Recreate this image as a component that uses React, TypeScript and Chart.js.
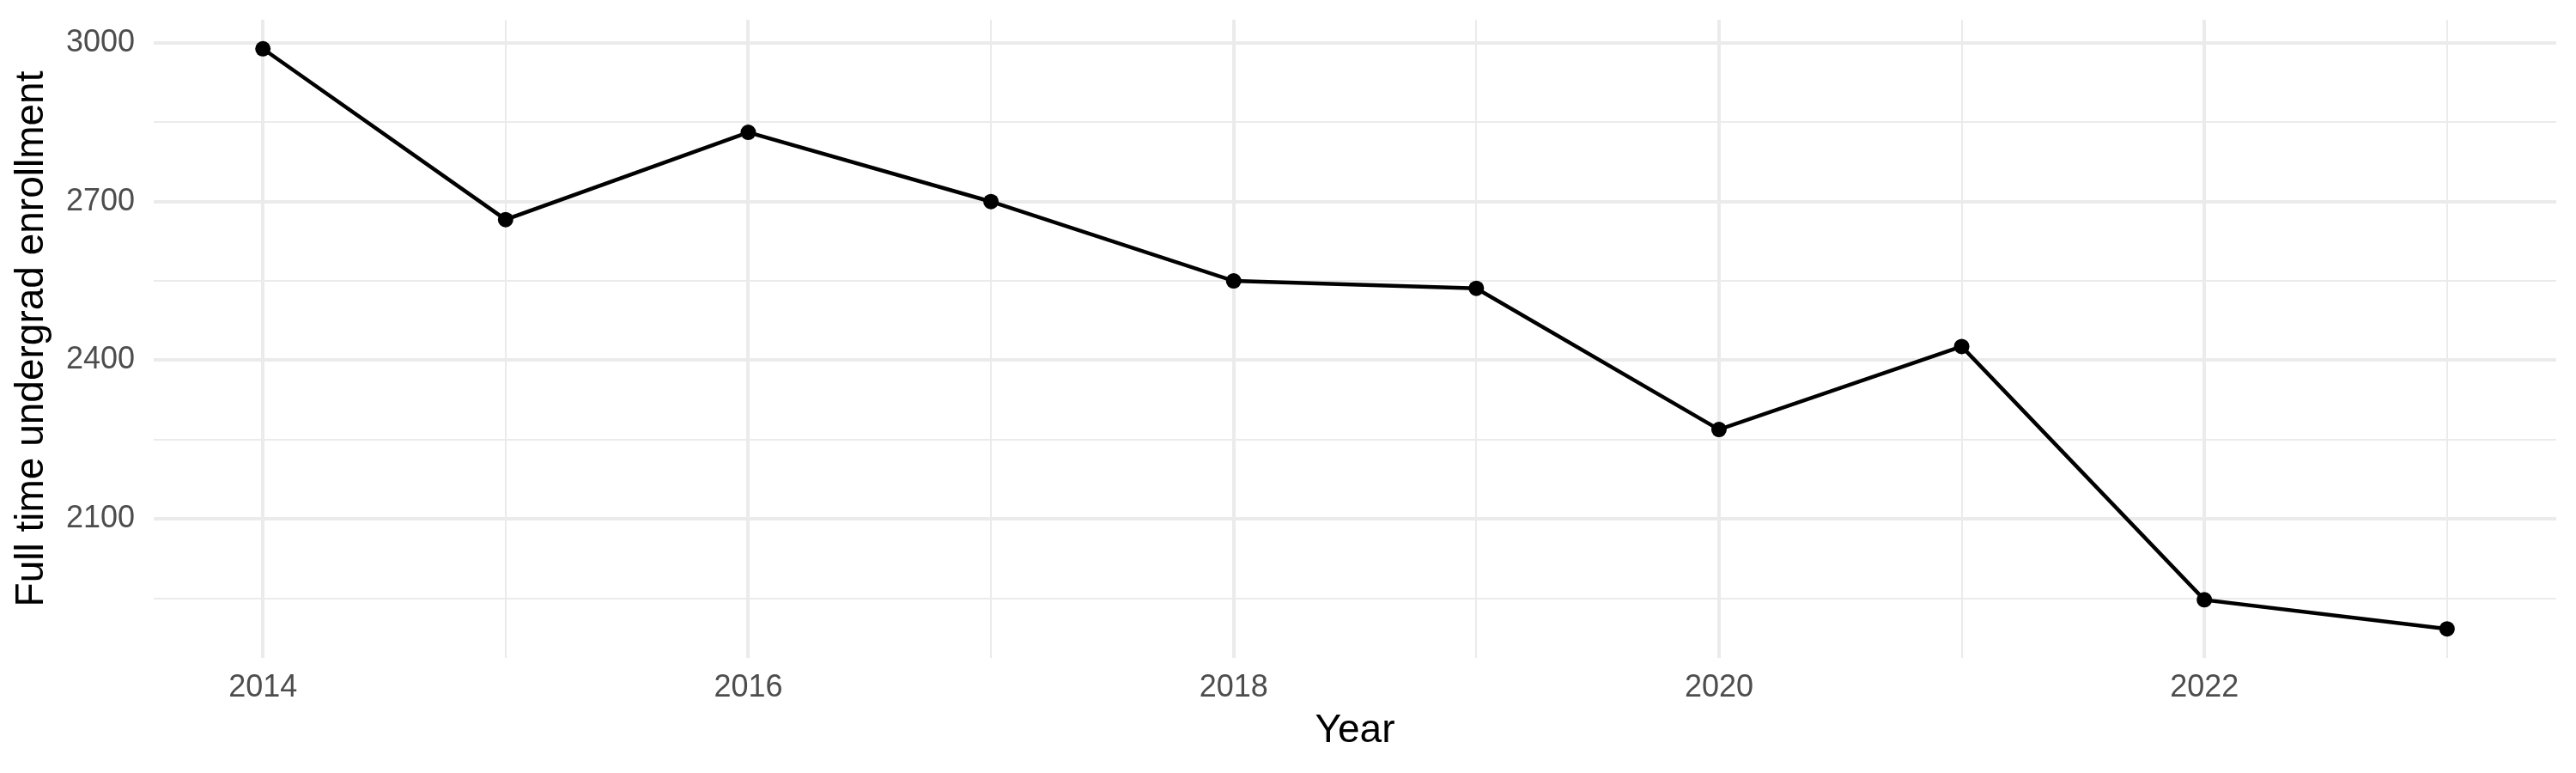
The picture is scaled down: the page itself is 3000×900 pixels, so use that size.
import { useEffect, useRef } from 'react';
import { Chart, registerables } from 'chart.js';

Chart.register(...registerables);

const years = [2014, 2015, 2016, 2017, 2018, 2019, 2020, 2021, 2022, 2023];
const enrollment = [2989, 2666, 2831, 2700, 2550, 2536, 2269, 2426, 1947, 1892];

// gridlines: majors carry labels, minors sit halfway between
const xGridYears = [2014, 2015, 2016, 2017, 2018, 2019, 2020, 2021, 2022, 2023];
const xLabelYears = [2014, 2016, 2018, 2020, 2022];
const yGridValues = [1950, 2100, 2250, 2400, 2550, 2700, 2850, 3000];
const yLabelValues = [2100, 2400, 2700, 3000];

const GRID = '#EBEBEB';
const TICK_TEXT = '#4D4D4D';
const FONT = '"Liberation Sans", Arial, sans-serif';

// ggplot-style 5% expansion of the data range
function expand(lo: number, hi: number) {
  const pad = (hi - lo) * 0.05;
  return [lo - pad, hi + pad];
}

export default function App() {
  const canvasRef = useRef<HTMLCanvasElement | null>(null);
  const chartRef = useRef<Chart | null>(null);

  useEffect(() => {
    if (!canvasRef.current) return;
    const ctx = canvasRef.current.getContext('2d');
    if (!ctx) return;

    const [xMin, xMax] = expand(Math.min(...years), Math.max(...years));
    const [yMin, yMax] = expand(Math.min(...enrollment), Math.max(...enrollment));

    chartRef.current = new Chart(ctx, {
      type: 'line',
      data: {
        datasets: [
          {
            data: years.map((y, i) => ({ x: y, y: enrollment[i] })),
            borderColor: '#000000',
            borderWidth: 4.5,
            pointRadius: 9,
            pointBackgroundColor: '#000000',
            pointBorderWidth: 0,
            tension: 0,
          },
        ],
      },
      options: {
        responsive: false,
        animation: false,
        devicePixelRatio: 1,
        layout: { padding: { top: 23, right: 23, left: 0, bottom: 0 } },
        plugins: {
          legend: { display: false },
          tooltip: { enabled: false },
        },
        scales: {
          x: {
            type: 'linear',
            min: xMin,
            max: xMax,
            afterBuildTicks: (scale) => {
              scale.ticks = xGridYears.map((v) => ({ value: v }));
            },
            afterFit: (scale: any) => {
              scale.height = 134;
              scale.paddingLeft = 0;
              scale.paddingRight = 0;
            },
            border: { display: false },
            grid: {
              drawTicks: false,
              color: GRID,
              lineWidth: (c) => (xLabelYears.includes(c.tick?.value) ? 4 : 2),
            },
            ticks: {
              autoSkip: false,
              maxRotation: 0,
              padding: 13,
              color: TICK_TEXT,
              font: { family: FONT, size: 36 },
              callback: (value) => (xLabelYears.includes(Number(value)) ? String(value) : ''),
            },
            title: {
              display: true,
              text: 'Year',
              color: '#000000',
              font: { family: FONT, size: 46 },
              padding: { top: 0, bottom: 21 },
            },
          },
          y: {
            type: 'linear',
            min: yMin,
            max: yMax,
            afterBuildTicks: (scale) => {
              scale.ticks = yGridValues.map((v) => ({ value: v }));
            },
            afterFit: (scale: any) => {
              scale.width = 179;
              scale.paddingTop = 0;
              scale.paddingBottom = 0;
            },
            border: { display: false },
            grid: {
              drawTicks: false,
              color: GRID,
              lineWidth: (c) => (yLabelValues.includes(c.tick?.value) ? 4 : 2),
            },
            ticks: {
              padding: 22,
              color: TICK_TEXT,
              font: { family: FONT, size: 36 },
              callback: (value) => (yLabelValues.includes(Number(value)) ? String(value) : ''),
            },
            title: {
              display: true,
              text: 'Full time undergrad enrollment',
              color: '#000000',
              font: { family: FONT, size: 46 },
              padding: { top: 10, bottom: 0 },
            },
          },
        },
      },
    });

    return () => {
      if (chartRef.current) {
        chartRef.current.destroy();
        chartRef.current = null;
      }
    };
  }, []);

  return (
    <div style={{ position: 'fixed', left: 0, top: 0, width: 3000, height: 900, background: '#ffffff' }}>
      <canvas ref={canvasRef} width={3000} height={900} />
    </div>
  );
}
